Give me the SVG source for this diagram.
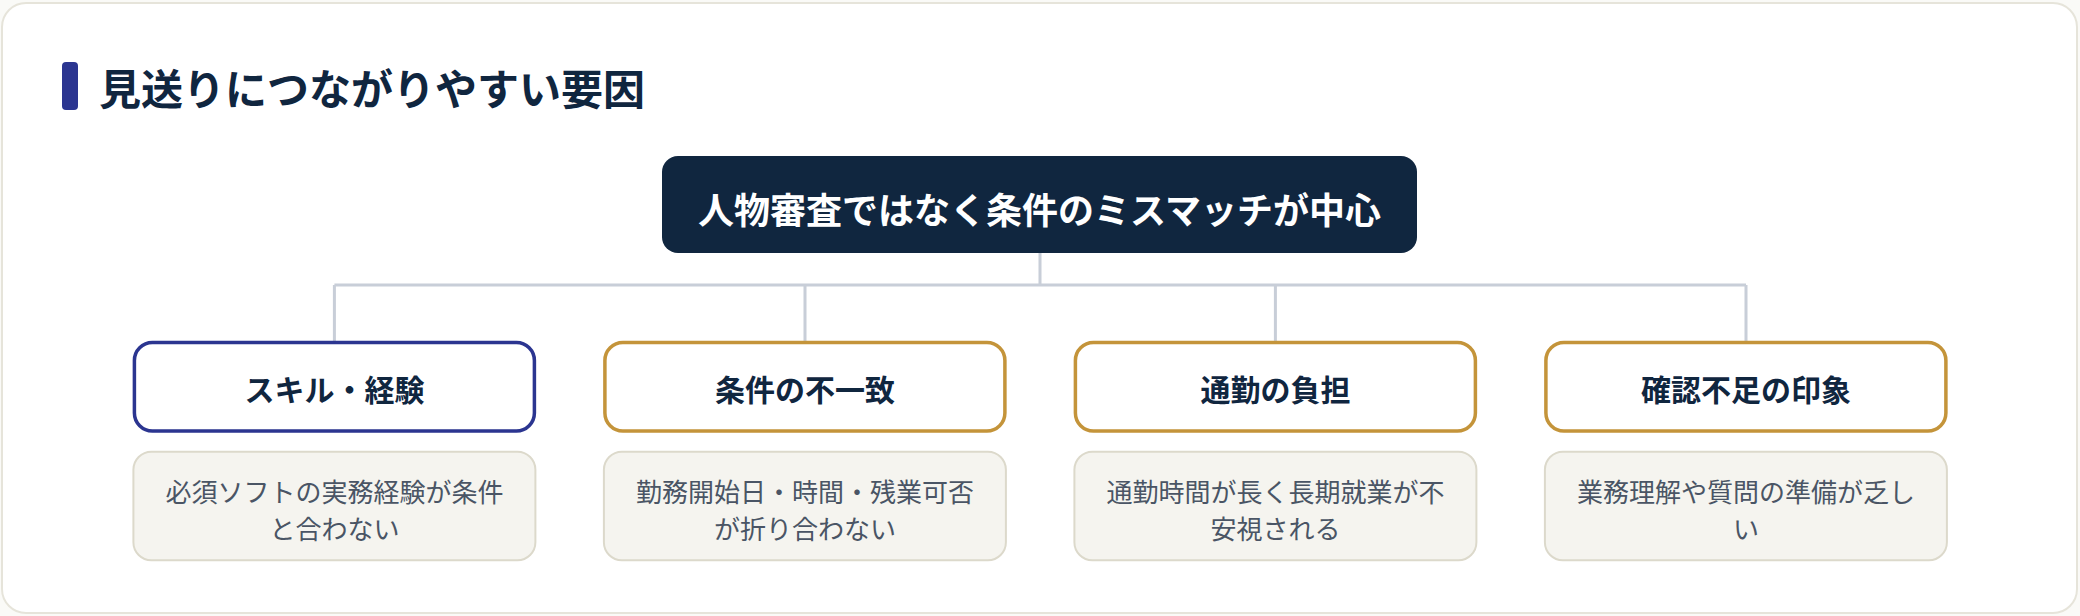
<svg xmlns="http://www.w3.org/2000/svg" width="2080" height="616" viewBox="0 0 2080 616">
<style>
.jp{font-family:"Noto Sans CJK JP","Noto Sans CJK SC",sans-serif}
.title{font-size:42px;font-weight:700;fill:#10263f}
.hub{font-size:36px;font-weight:700;fill:#ffffff}
.cat{fill:#ffffff;stroke-width:3.5}
.cat-blue{stroke:#2b3590}
.cat-gold{stroke:#c4943a}
.catt{font-size:30px;font-weight:700;fill:#10263f}
.desc{fill:#f5f4ef;stroke:#dcd9cb;stroke-width:2}
.desct{font-size:26px;font-weight:400;fill:#4a5565}
.conn{stroke:#c8ced8;stroke-width:3;fill:none}
</style>
<rect x="0" y="0" width="2080" height="616" fill="#fafaf7"/>
<rect x="2" y="3" width="2075" height="610" rx="24" fill="#ffffff" stroke="#e6e4da" stroke-width="2"/>
<g id="title">
<rect x="62" y="62" width="16" height="48" rx="4" fill="#2b3590"/>
<text class="jp title" x="99" y="86" dominant-baseline="central">見送りにつながりやすい要因</text>
</g>
<g id="connectors">
<path class="conn" d="M1040 253 V285 M334.4 285 H1746 M334.4 285 V342 M805 285 V342 M1275.4 285 V342 M1746 285 V342"/>
</g>
<g id="hub">
<rect x="662" y="156" width="755" height="97" rx="16" fill="#10263f"/>
<text class="jp hub" x="1039.5" y="208" text-anchor="middle" dominant-baseline="central">人物審査ではなく条件のミスマッチが中心</text>
</g>
<g id="node1">
<rect class="cat cat-blue" x="134.4" y="342.5" width="400" height="88.5" rx="18"/>
<text class="jp catt" x="334.4" y="388" text-anchor="middle" dominant-baseline="central">スキル・経験</text>
</g>
<g id="desc1">
<rect class="desc" x="133.4" y="451.7" width="402" height="108.6" rx="18"/>
<text class="jp desct" x="334.4" text-anchor="middle" dominant-baseline="central"><tspan x="334.4" y="489.5">必須ソフトの実務経験が条件</tspan><tspan x="334.4" y="527">と合わない</tspan></text>
</g>
<g id="node2">
<rect class="cat cat-gold" x="604.9" y="342.5" width="400" height="88.5" rx="18"/>
<text class="jp catt" x="804.9" y="388" text-anchor="middle" dominant-baseline="central">条件の不一致</text>
</g>
<g id="desc2">
<rect class="desc" x="603.9" y="451.7" width="402" height="108.6" rx="18"/>
<text class="jp desct" x="804.9" text-anchor="middle" dominant-baseline="central"><tspan x="804.9" y="489.5">勤務開始日・時間・残業可否</tspan><tspan x="804.9" y="527">が折り合わない</tspan></text>
</g>
<g id="node3">
<rect class="cat cat-gold" x="1075.4" y="342.5" width="400" height="88.5" rx="18"/>
<text class="jp catt" x="1275.4" y="388" text-anchor="middle" dominant-baseline="central">通勤の負担</text>
</g>
<g id="desc3">
<rect class="desc" x="1074.4" y="451.7" width="402" height="108.6" rx="18"/>
<text class="jp desct" x="1275.4" text-anchor="middle" dominant-baseline="central"><tspan x="1275.4" y="489.5">通勤時間が長く長期就業が不</tspan><tspan x="1275.4" y="527">安視される</tspan></text>
</g>
<g id="node4">
<rect class="cat cat-gold" x="1545.9" y="342.5" width="400" height="88.5" rx="18"/>
<text class="jp catt" x="1745.9" y="388" text-anchor="middle" dominant-baseline="central">確認不足の印象</text>
</g>
<g id="desc4">
<rect class="desc" x="1544.9" y="451.7" width="402" height="108.6" rx="18"/>
<text class="jp desct" x="1745.9" text-anchor="middle" dominant-baseline="central"><tspan x="1745.9" y="489.5">業務理解や質問の準備が乏し</tspan><tspan x="1745.9" y="527">い</tspan></text>
</g>
</svg>
